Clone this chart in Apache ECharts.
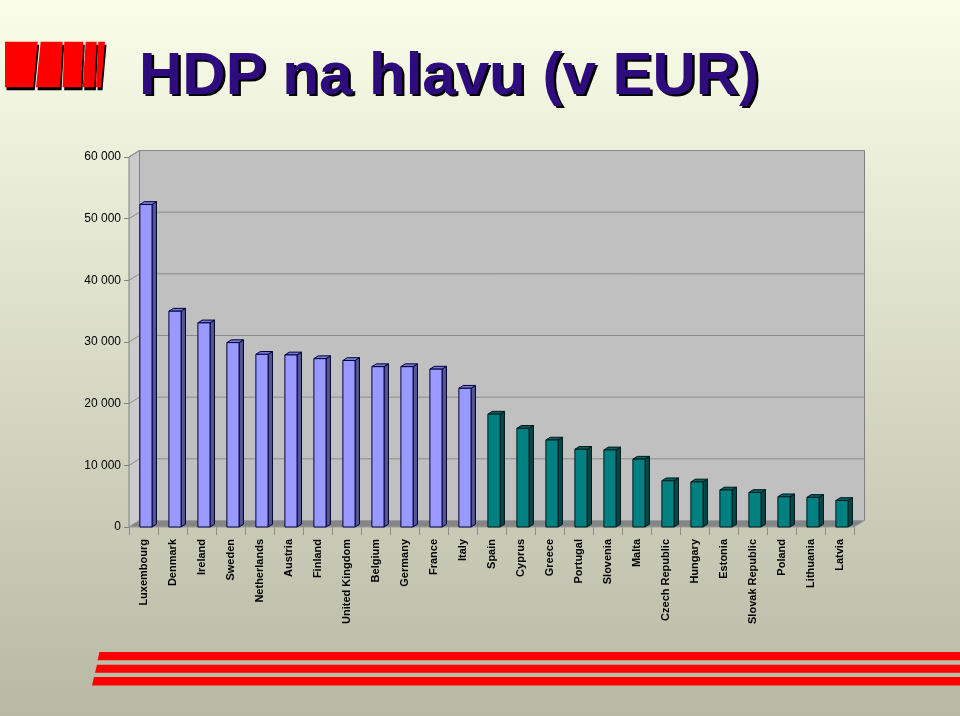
<!DOCTYPE html>
<html>
<head>
<meta charset="utf-8">
<script src="https://cdn.jsdelivr.net/npm/echarts@6/dist/echarts.min.js"></script>
<style>html,body{margin:0;padding:0;}#c{width:960px;height:716px;}</style>
</head>
<body>
<div id="c"></div>
<script>
const titleText = 'HDP na hlavu (v EUR)';
const categories = ['Luxembourg','Denmark','Ireland','Sweden','Netherlands','Austria','Finland','United Kingdom','Belgium','Germany','France','Italy','Spain','Cyprus','Greece','Portugal','Slovenia','Malta','Czech Republic','Hungary','Estonia','Slovak Republic','Poland','Lithuania','Latvia'];
const blueValues = [52300, 35000, 33100, 29900, 28000, 27900, 27300, 27000, 26000, 26000, 25600, 22500];
const tealValues = [18300, 16000, 14100, 12600, 12500, 11000, 7500, 7300, 6000, 5600, 4900, 4800, 4300];
const valueTicks = [0, 10000, 20000, 30000, 40000, 50000, 60000];

const DX = 10.5, DY = -6.5;   // depth of the 3D box
const BDX = 4.4, BDY = -2.8;  // depth of each bar

function fmt(v){ return String(v).replace(/\B(?=(\d{3})+(?!\d))/g, ' '); }

const blueData = blueValues.map((v, i) => [i, v]);
const tealData = tealValues.map((v, i) => [i + blueValues.length, v]);

function makeBarRenderer(front, side, top, stroke){
  return function(params, api){
    const i = api.value(0), v = api.value(1);
    const base = api.coord([i, 0]);
    const tp = api.coord([i, v]);
    const bw = api.size([1, 0])[0];
    const x0 = base[0] - bw * 0.125;
    const x1 = x0 + bw * 0.42;
    const yT = tp[1], yB = base[1];
    const st = {stroke: stroke, lineWidth: 1};
    return {type: 'group', children: [
      {type: 'polygon', shape: {points: [[x1, yT],[x1+BDX, yT+BDY],[x1+BDX, yB+BDY],[x1, yB]]}, style: Object.assign({fill: side}, st)},
      {type: 'polygon', shape: {points: [[x0, yT],[x0+BDX, yT+BDY],[x1+BDX, yT+BDY],[x1, yT]]}, style: Object.assign({fill: top}, st)},
      {type: 'polygon', shape: {points: [[x0, yT],[x1, yT],[x1, yB],[x0, yB]]}, style: Object.assign({fill: front}, st)}
    ]};
  };
}

function renderFrame(params, api){
  const cs = params.coordSys;
  const x = cs.x, y = cs.y, w = cs.width, h = cs.height;
  const ch = [];
  ch.push({type: 'polygon', shape: {points: [[x, y],[x+DX, y+DY],[x+DX, y+h+DY],[x, y+h]]}, style: {fill: '#cbcbcb', stroke: '#808080', lineWidth: 1}});
  ch.push({type: 'rect', shape: {x: x+DX, y: y+DY, width: w, height: h}, style: {fill: '#c0c0c0', stroke: '#808080', lineWidth: 1}});
  valueTicks.forEach(t => {
    if (t === 0) return;
    const yy = api.coord([0, t])[1];
    ch.push({type: 'line', shape: {x1: x+DX, y1: yy+DY, x2: x+w+DX, y2: yy+DY}, style: {stroke: '#8a8a8a', lineWidth: 1}});
    ch.push({type: 'line', shape: {x1: x, y1: yy, x2: x+DX, y2: yy+DY}, style: {stroke: '#8a8a8a', lineWidth: 1}});
  });
  ch.push({type: 'polygon', shape: {points: [[x, y+h],[x+w, y+h],[x+w+DX, y+h+DY],[x+DX, y+h+DY]]}, style: {fill: '#858585', stroke: '#9a9a9a', lineWidth: 1}});
  return {type: 'group', children: ch};
}

// logo shapes (decoration)
const logoBars = [
  [[5,41.7],[37.7,41.7],[33.3,87.3],[5,87.3]],
  [[40.7,41.7],[62.7,41.7],[60,87.3],[36,87.3]],
  [[64.3,41.7],[83.3,41.7],[81,87.3],[62.7,87.3]],
  [[85.7,41.7],[96.7,41.7],[94.3,87.3],[82.7,87.3]],
  [[98.3,41.7],[105,41.7],[101,87.3],[96,87.3]]
];
const graphics = [{
  type: 'rect', z: -10, shape: {x: 0, y: 0, width: 960, height: 716},
  style: {fill: new echarts.graphic.LinearGradient(0, 0, 0, 1, [{offset: 0, color: '#fafde8'}, {offset: 1, color: '#b7b9a5'}])}
}];
logoBars.forEach(p => graphics.push({type: 'polygon', z: 1, shape: {points: p.map(q => [q[0]+1.5, q[1]+3])}, style: {fill: '#000'}}));
logoBars.forEach(p => graphics.push({type: 'polygon', z: 2, shape: {points: p}, style: {fill: '#ff0000'}}));
[[652, 660.3, 99.5, 97.5], [664.7, 672.7, 97, 95], [677, 685.5, 94, 92]].forEach(s => {
  graphics.push({type: 'polygon', z: 1, shape: {points: [[s[2], s[0]],[960, s[0]],[960, s[1]],[s[3], s[1]]]}, style: {fill: '#ff0000'}});
});
const titleFont = 'bold 60px "Liberation Sans", Arial, sans-serif';
graphics.push({type: 'text', z: 5, x: 141.5, y: 49.5, style: {text: titleText, font: titleFont, fill: '#000', verticalAlign: 'top'}});
graphics.push({type: 'text', z: 6, x: 139, y: 47, style: {text: titleText, font: titleFont, fill: '#2e0c7e', verticalAlign: 'top'}});

const chart = echarts.init(document.getElementById('c'), null, {renderer: 'canvas'});
chart.setOption({
  animation: false,
  graphic: graphics,
  grid: {left: 129, right: 106, top: 157, bottom: 189, containLabel: false},
  xAxis: {
    type: 'category', data: categories, boundaryGap: true,
    axisLine: {show: false},
    axisTick: {show: true, length: 8, interval: 0, lineStyle: {color: '#8c8c8c'}},
    axisLabel: {rotate: 90, interval: 0, margin: 12, fontSize: 11, fontWeight: 'bold', color: '#000', fontFamily: 'Liberation Sans, Arial, sans-serif'},
    splitLine: {show: false}
  },
  yAxis: {
    type: 'value', min: 0, max: 60000, interval: 10000,
    axisLine: {show: false},
    axisTick: {show: true, length: 5, lineStyle: {color: '#808080'}},
    axisLabel: {margin: 8, fontSize: 12, color: '#000', fontFamily: 'Liberation Sans, Arial, sans-serif', formatter: fmt},
    splitLine: {show: false}
  },
  series: [
    {type: 'custom', name: 'frame', z: 1, silent: true, data: [[0, 0]], encode: {x: 0, y: 1}, renderItem: renderFrame},
    {type: 'custom', name: 'blue', z: 3, data: blueData, encode: {x: 0, y: 1}, renderItem: makeBarRenderer('#9999ff', '#55558f', '#7b7bd6', '#00003a')},
    {type: 'custom', name: 'teal', z: 3, data: tealData, encode: {x: 0, y: 1}, renderItem: makeBarRenderer('#008080', '#004747', '#006262', '#001a1a')}
  ]
});
</script>
</body>
</html>
